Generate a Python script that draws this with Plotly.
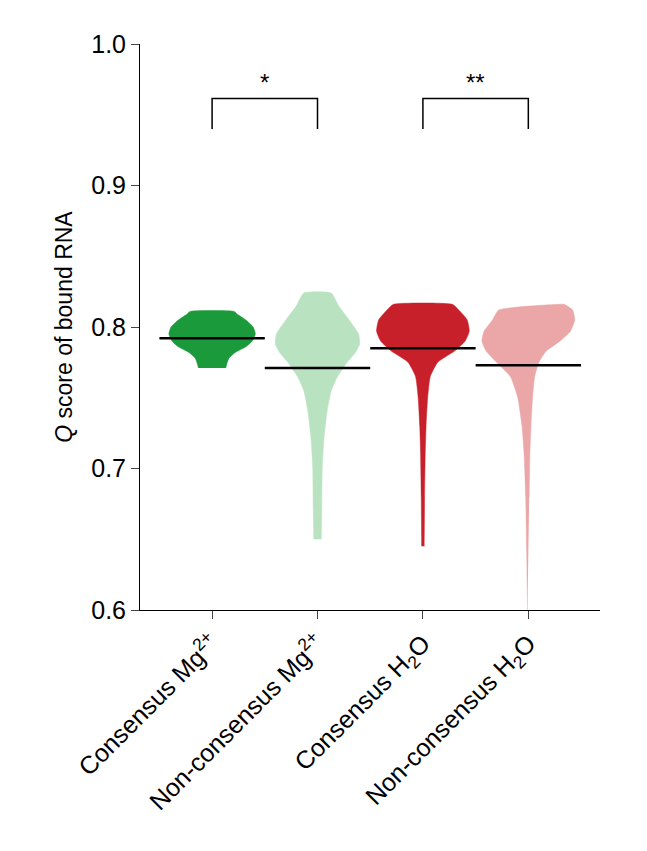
import plotly.graph_objects as go

categories = ["Consensus Mg<sup>2+</sup>", "Non-consensus Mg<sup>2+</sup>",
              "Consensus H<sub>2</sub>O", "Non-consensus H<sub>2</sub>O"]
colors = ["#1b9a3b", "#b9e2c1", "#c8202a", "#eba7a7"]
medians = [0.792, 0.771, 0.785, 0.773]

# violin outlines: q values and half widths (category units)
prof_y = [
    [0.771, 0.774, 0.778, 0.782, 0.786, 0.790, 0.795, 0.800, 0.805, 0.809, 0.811],
    [0.650, 0.670, 0.700, 0.720, 0.740, 0.755, 0.765, 0.775, 0.782, 0.788, 0.795, 0.805, 0.815, 0.824],
    [0.645, 0.680, 0.710, 0.730, 0.750, 0.765, 0.775, 0.783, 0.790, 0.797, 0.805, 0.812, 0.816],
    [0.600, 0.640, 0.680, 0.710, 0.730, 0.750, 0.765, 0.775, 0.783, 0.790, 0.797, 0.805, 0.812, 0.816],
]
prof_w = [
    [0.13, 0.14, 0.16, 0.22, 0.32, 0.38, 0.41, 0.39, 0.32, 0.24, 0.21],
    [0.035, 0.04, 0.045, 0.06, 0.09, 0.13, 0.19, 0.28, 0.36, 0.40, 0.39, 0.30, 0.20, 0.13],
    [0.012, 0.016, 0.022, 0.03, 0.045, 0.07, 0.14, 0.30, 0.40, 0.44, 0.42, 0.34, 0.28],
    [0.008, 0.015, 0.025, 0.04, 0.06, 0.10, 0.17, 0.30, 0.40, 0.44, 0.42, 0.34, 0.28],
]

fig = go.Figure()
for i in range(4):
    xc = i + 1
    ys = prof_y[i] + prof_y[i][::-1]
    xs = [xc - w for w in prof_w[i]] + [xc + w for w in prof_w[i][::-1]]
    fig.add_trace(go.Scatter(x=xs, y=ys, fill="toself", fillcolor=colors[i], mode="lines",
                             line=dict(color=colors[i], width=0.5, shape="spline", smoothing=0.5),
                             hoverinfo="skip", showlegend=False))
    fig.add_trace(go.Scatter(x=[xc - 0.5, xc + 0.5], y=[medians[i]] * 2, mode="lines",
                             line=dict(color="black", width=2.5), showlegend=False))

# significance brackets
for a, b, lab in [(1, 2, "*"), (3, 4, "**")]:
    fig.add_trace(go.Scatter(x=[a, a, b, b], y=[0.94, 0.9615, 0.9615, 0.94], mode="lines",
                             line=dict(color="black", width=1.5), showlegend=False))
    fig.add_annotation(x=(a + b) / 2, y=0.962, text=lab, showarrow=False, yanchor="bottom",
                       font=dict(size=24, color="black"))

fig.update_layout(
    width=647, height=851, template="plotly_white",
    paper_bgcolor="white", plot_bgcolor="white",
    margin=dict(l=132, r=55, t=36, b=249),
    font=dict(family="Liberation Sans, Arial", size=24, color="black"),
    xaxis=dict(range=[0.316, 4.68], tickvals=[1, 2, 3, 4], ticktext=categories,
               tickangle=-45, showgrid=False, zeroline=False, showline=True,
               linecolor="black", ticks="outside", ticklen=8, tickfont=dict(size=25)),
    yaxis=dict(range=[0.6, 1.0], tickvals=[0.6, 0.7, 0.8, 0.9, 1.0],
               ticktext=["0.6", "0.7", "0.8", "0.9", "1.0"], showgrid=False,
               zeroline=False, showline=True, linecolor="black", ticks="outside",
               ticklen=8, tickfont=dict(size=25),
               title=dict(text="<i>Q</i> score of bound RNA", font=dict(size=23), standoff=12)),
)
fig.write_html("out.html")
